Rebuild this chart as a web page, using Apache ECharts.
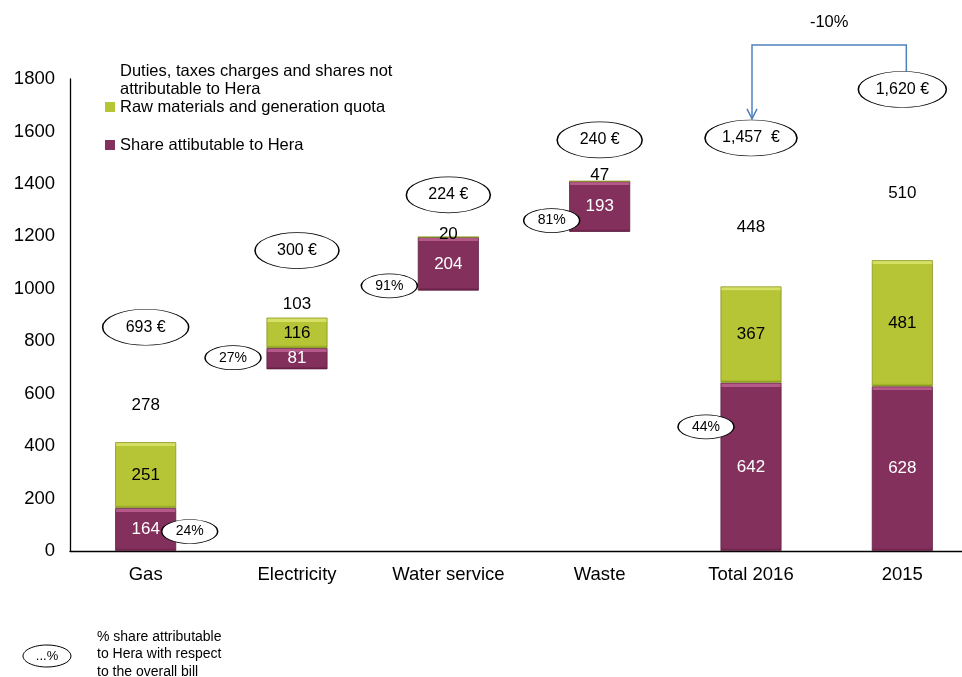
<!DOCTYPE html>
<html>
<head>
<meta charset="utf-8">
<script src="https://cdn.jsdelivr.net/npm/echarts@6/dist/echarts.min.js"></script>
<style>
  html, body { margin: 0; padding: 0; background: #ffffff; overflow: hidden; }
  #chart { width: 978px; height: 677px; }
</style>
</head>
<body>
<div id="chart"></div>
<script>
// Bill breakdown per service (euro per year)
const categories = ['Gas', 'Electricity', 'Water service', 'Waste', 'Total 2016', '2015'];
const startOffsets = [0, 693, 993, 1217, 0, 0];
const shareHera = [164, 81, 204, 193, 642, 628];
const rawMaterials = [251, 116, 0, 0, 367, 481];
const dutiesTaxes = [278, 103, 20, 47, 448, 510];
const billTotals = ['693 €', '300 €', '224 €', '240 €', '1,457  €', '1,620 €'];
const heraPercent = ['24%', '27%', '91%', '81%', '44%'];
const yearChange = '-10%';
const yMin = 0, yMax = 1800, yStep = 200;

const seriesNames = {
  duties: 'Duties, taxes charges and shares not attributable to Hera',
  raw: 'Raw materials and generation quota',
  share: 'Share attibutable to Hera'
};

// layout of the annotation bubbles (pixel offsets and sizes)
const totalBubbleDy = [-42, -40, -37, -29, -31, -37];
const totalBubbleW = [86, 84, 84, 85, 92, 88];
const pctBubbleOffset = [[44, 2], [-64, -1], [-59, 22], [-48, 14], [-45, -40]];

const FONT = '"Liberation Sans", Arial, sans-serif';
// plot area runs slightly past the right edge of the visible page
const GRID = { left: 70, top: 79, bottom: 126, right: 0 };
const pxPerUnit = (677 - GRID.top - GRID.bottom) / (yMax - yMin);

function bevel(value, top, mid, bottom) {
  const h = Math.max(value * pxPerUnit, 1);
  const a = Math.min(4 / h, 0.3);
  const b = Math.max(1 - 3 / h, 0.7);
  return {
    color: new echarts.graphic.LinearGradient(0, 0, 0, 1, [
      { offset: 0, color: top },
      { offset: a, color: top },
      { offset: Math.min(a + 0.001, 1), color: mid },
      { offset: b, color: mid },
      { offset: 1, color: bottom }
    ]),
    borderColor: bottom,
    borderWidth: 0.8
  };
}

const totals = categories.map((_, i) => startOffsets[i] + shareHera[i] + rawMaterials[i] + dutiesTaxes[i]);

const bubbleLabel = (text, size) => ({
  show: true, position: 'inside', formatter: text,
  color: '#000000', fontSize: size, fontFamily: FONT
});

const totalBubbles = billTotals.map((t, i) => ({
  value: [i, totals[i]],
  symbolSize: [totalBubbleW[i], 36],
  symbolOffset: [0, totalBubbleDy[i]],
  label: bubbleLabel(t, 16)
}));

const pctBubbles = heraPercent.map((t, i) => ({
  value: [i, startOffsets[i] + shareHera[i] / 2],
  symbolSize: [56, 24],
  symbolOffset: pctBubbleOffset[i],
  label: bubbleLabel(t, 14)
}));

const chart = echarts.init(document.getElementById('chart'), null, { renderer: 'canvas' });

const legendText = { fontSize: 16.5, color: '#000', lineHeight: 18, fontFamily: FONT };

const option = {
  animation: false,
  backgroundColor: '#ffffff',
  textStyle: { fontFamily: FONT },
  grid: { left: GRID.left, top: GRID.top, bottom: GRID.bottom, right: GRID.right, containLabel: false },
  legend: [
    {
      orient: 'vertical', left: 100, top: 57, itemGap: 0,
      itemWidth: 10, itemHeight: 10, icon: 'rect',
      data: [seriesNames.duties, seriesNames.raw],
      textStyle: legendText,
      formatter: n => n === seriesNames.duties ? 'Duties, taxes charges and shares not\nattributable to Hera' : n,
      selectedMode: false
    },
    {
      orient: 'vertical', left: 100, top: 131, itemGap: 0,
      itemWidth: 10, itemHeight: 10, icon: 'rect',
      data: [seriesNames.share],
      textStyle: legendText,
      selectedMode: false
    }
  ],
  xAxis: {
    type: 'category', data: categories,
    axisLine: { lineStyle: { color: '#000', width: 1.3 } },
    axisTick: { show: false },
    axisLabel: { fontSize: 18.5, color: '#000', margin: 14, fontFamily: FONT },
    splitLine: { show: false }
  },
  yAxis: {
    type: 'value', min: yMin, max: yMax, interval: yStep,
    axisLine: { show: true, lineStyle: { color: '#000', width: 1.3 } },
    axisTick: { show: false },
    axisLabel: { fontSize: 18.5, color: '#000', margin: 15, fontFamily: FONT, formatter: v => String(v) },
    splitLine: { show: false }
  },
  series: [
    {
      name: 'offset', type: 'bar', stack: 'bill', barWidth: 61,
      itemStyle: { color: 'rgba(0,0,0,0)' },
      data: startOffsets, silent: true
    },
    {
      name: seriesNames.share, type: 'bar', stack: 'bill', barWidth: 61,
      itemStyle: { color: '#84305c' },
      label: { show: true, position: 'inside', color: '#ffffff', fontSize: 17, fontFamily: FONT },
      data: shareHera.map(v => ({ value: v, itemStyle: bevel(v, '#b5598a', '#84305c', '#5e1d40') }))
    },
    {
      name: seriesNames.raw, type: 'bar', stack: 'bill', barWidth: 61,
      itemStyle: { color: '#b6c535' },
      label: {
        show: true, position: 'inside', color: '#000000', fontSize: 17, fontFamily: FONT,
        formatter: p => p.value ? String(p.value) : ''
      },
      data: rawMaterials.map(v => ({ value: v, itemStyle: bevel(v, '#d6e064', '#b6c535', '#87941d') }))
    },
    {
      name: seriesNames.duties, type: 'bar', stack: 'bill', barWidth: 61,
      itemStyle: { color: 'rgba(255,255,255,0)' },
      label: { show: true, position: 'inside', color: '#000000', fontSize: 17, fontFamily: FONT },
      data: dutiesTaxes
    },
    {
      name: 'bill totals', type: 'scatter', z: 5, symbol: 'circle',
      itemStyle: { color: '#ffffff', borderColor: '#000000', borderWidth: 1, opacity: 1 },
      emphasis: { disabled: true },
      data: totalBubbles
    },
    {
      name: 'hera percent', type: 'scatter', z: 5, symbol: 'circle',
      itemStyle: { color: '#ffffff', borderColor: '#000000', borderWidth: 1, opacity: 1 },
      emphasis: { disabled: true },
      data: pctBubbles
    }
  ]
};

chart.setOption(option);

// year-on-year connector between the 2015 and 2016 totals
const from = chart.convertToPixel({ gridIndex: 0 }, [5, totals[5]]);
const to = chart.convertToPixel({ gridIndex: 0 }, [4, totals[4]]);
const yTop = chart.convertToPixel({ gridIndex: 0 }, [0, 1930])[1];
const x1 = from[0] + 4, x2 = to[0] + 1;
const y1 = from[1] + totalBubbleDy[5] - 18;
const y2 = to[1] + totalBubbleDy[4] - 19;
const arrowColor = '#4f81bd';

chart.setOption({
  graphic: [
    {
      type: 'polyline', silent: true,
      shape: { points: [[x1, y1], [x1, yTop], [x2, yTop], [x2, y2]] },
      style: { stroke: arrowColor, lineWidth: 1.5, fill: null }
    },
    {
      type: 'polyline', silent: true,
      shape: { points: [[x2 - 5, y2 - 10], [x2, y2], [x2 + 5, y2 - 10]] },
      style: { stroke: arrowColor, lineWidth: 1.5, fill: null }
    },
    {
      type: 'text', silent: true,
      x: (x1 + x2) / 2, y: yTop - 22,
      style: { text: yearChange, fontSize: 16.5, fill: '#000', fontFamily: FONT, align: 'center', verticalAlign: 'middle' }
    },
    {
      type: 'ellipse', silent: true,
      shape: { cx: 47, cy: 656, rx: 24, ry: 11 },
      style: { fill: '#fff', stroke: '#000', lineWidth: 1 }
    },
    {
      type: 'text', silent: true, x: 47, y: 656,
      style: { text: '...%', fontSize: 13, fill: '#000', fontFamily: FONT, align: 'center', verticalAlign: 'middle' }
    },
    {
      type: 'text', silent: true, x: 97, y: 628,
      style: {
        text: '% share attributable\nto Hera with respect\nto the overall bill',
        fontSize: 14, lineHeight: 17.5, fill: '#000', fontFamily: FONT
      }
    }
  ]
});
</script>
</body>
</html>
